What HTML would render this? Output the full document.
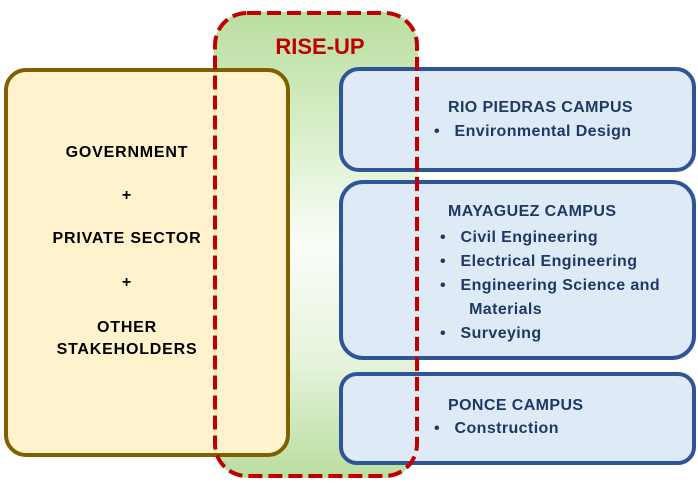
<!DOCTYPE html>
<html><head><style>
body{margin:0;width:698px;height:489px;background:#fff;position:relative;overflow:hidden;font-family:"Liberation Sans",sans-serif;font-weight:bold}
.a{position:absolute;box-sizing:border-box}
.t{position:absolute;font-size:16px;letter-spacing:0.4px;color:#1f3864;white-space:nowrap}
.l{position:absolute;font-size:16px;letter-spacing:0.8px;color:#000;text-align:center;width:246px;left:4px}
</style></head><body>
<div class="a" style="left:214px;top:12px;width:204px;height:466px;border-radius:34px;background:linear-gradient(#b9dea0 0%,#d8eec8 25%,#fafdf8 50%,#e6f3dc 75%,#b9dea0 100%)"></div>
<div class="a" style="left:4px;top:68px;width:286px;height:389px;border:4px solid #7f6000;border-radius:22px;background:#fff2cc"></div>
<div class="a" style="left:339px;top:67px;width:357px;height:105px;border:4px solid #2f5597;border-radius:20px;background:#deebf7"></div>
<div class="a" style="left:339px;top:180px;width:357px;height:180px;border:4px solid #2f5597;border-radius:24px;background:#deebf7"></div>
<div class="a" style="left:339px;top:372px;width:357px;height:93px;border:4px solid #2f5597;border-radius:18px;background:#deebf7"></div>
<svg class="a" style="left:0;top:0" width="698" height="489"><rect x="215" y="13" width="202" height="463" rx="32" fill="none" stroke="#c00000" stroke-width="4" stroke-dasharray="14,6"/></svg>
<div class="t" style="left:270px;top:34px;font-size:22px;color:#c00000;width:100px;text-align:center;letter-spacing:0">RISE-UP</div>
<div class="l" style="top:144px">GOVERNMENT</div>
<div class="l" style="top:187px">+</div>
<div class="l" style="top:230px">PRIVATE SECTOR</div>
<div class="l" style="top:274px">+</div>
<div class="l" style="top:317px;line-height:22px">OTHER<br>STAKEHOLDERS</div>
<div class="t" style="left:448px;top:99px">RIO PIEDRAS CAMPUS</div>
<div class="t" style="left:434px;top:123px">•&nbsp;&nbsp;&nbsp;Environmental Design</div>
<div class="t" style="left:448px;top:203px">MAYAGUEZ CAMPUS</div>
<div class="t" style="left:440px;top:226px;line-height:24px">•&nbsp;&nbsp;&nbsp;Civil Engineering<br>•&nbsp;&nbsp;&nbsp;Electrical Engineering<br>•&nbsp;&nbsp;&nbsp;Engineering Science and<br>&nbsp;&nbsp;&nbsp;&nbsp;&nbsp;&nbsp;Materials<br>•&nbsp;&nbsp;&nbsp;Surveying</div>
<div class="t" style="left:448px;top:397px">PONCE CAMPUS</div>
<div class="t" style="left:434px;top:420px">•&nbsp;&nbsp;&nbsp;Construction</div>
</body></html>
